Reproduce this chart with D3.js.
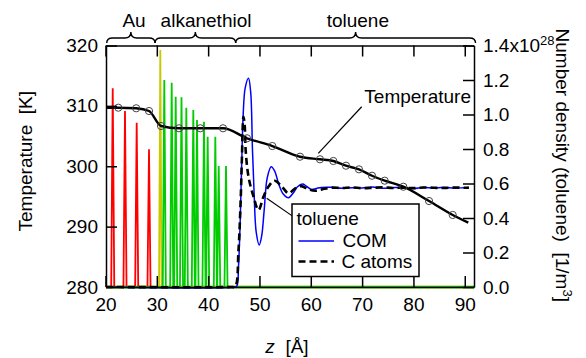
<!DOCTYPE html>
<html>
<head>
<meta charset="utf-8">
<script src="https://cdn.jsdelivr.net/npm/d3@7"></script>
<style>
  body { margin: 0; background: #fff; }
  svg text { font-family: "Liberation Sans", Arial, sans-serif; font-size: 19px; fill: #000; }
</style>
</head>
<body>
<script>
// x ticks and axis ticks
var zTicks = [20, 30, 40, 50, 60, 70, 80, 90];
var tempTicks = [280, 290, 300, 310, 320];
var densTicks = [0, 0.2, 0.4, 0.6, 0.8, 1.0, 1.2, 1.4];

// temperature profile (line) and sampled points (circles)
var tempZ = [20.1, 22.5, 25.98, 28.48, 30.82, 34.32, 38.47, 42.9, 47.57, 52.5, 57.9, 61.79, 64.39, 66.86, 69.39, 71.93, 74.4, 78.03, 83.04, 87.65, 90.69];
var tempK = [309.7, 309.7, 309.6, 309.15, 306.67, 306.29, 306.29, 306.29, 304.63, 303.35, 301.58, 301.15, 300.87, 300.09, 299.49, 298.43, 297.61, 296.61, 294.24, 291.93, 290.65];
var circZ = tempZ.slice(1, -1);
var circK = tempK.slice(1, -1);

// Au peaks (red), S peak (yellow), alkanethiol peaks (green)
var auZ = [21.41, 23.8, 26.08, 28.48];
var auD = [1.152, 1.02, 0.952, 0.798];
var sZ = [30.68];
var sD = [1.374];
var alkZ = [31.46, 32.9, 33.68, 34.81, 35.75, 37.11, 37.83, 39.19, 39.91, 41.4, 42.06, 43.48];
var alkD = [1.2, 1.184, 1.103, 1.1, 1.039, 1.026, 0.968, 0.958, 0.871, 0.871, 0.701, 0.701];

// toluene COM density
var comZ = [20.1, 45.07, 45.6, 45.91, 46.24, 46.53, 46.83, 47.22, 47.86, 48.29, 48.64, 48.97, 49.36, 49.95, 50.43, 50.92, 51.51, 52.29, 52.97, 53.71, 54.63, 55.66, 56.58, 57.36, 58.4, 59.12, 60.09, 61.07, 62.04,
            64, 66, 68, 70, 72, 74, 76, 78, 80, 82, 84, 86, 88, 90, 90.8];
var comD = [0, 0, 0.006, 0.116, 0.377, 0.707, 1.0, 1.154, 1.21, 1.13, 0.794, 0.533, 0.319, 0.243, 0.296, 0.446, 0.632, 0.697, 0.672, 0.601, 0.539, 0.518, 0.545, 0.58, 0.597, 0.585, 0.566, 0.571, 0.577,
            0.578, 0.572, 0.576, 0.574, 0.579, 0.573, 0.576, 0.575, 0.571, 0.577, 0.574, 0.578, 0.573, 0.576, 0.575];

// toluene C atom density
var cZ = [20.1, 44.49, 45.27, 45.91, 46.34, 46.57, 46.88, 47.12, 47.31, 47.86, 48.84, 49.81, 50.79, 51.76, 52.93, 54.38, 55.66, 56.97, 58.14, 59.57, 60.87, 62.18,
          64, 66, 68, 70, 72, 74, 76, 78, 80, 82, 84, 86, 88, 90, 90.8];
var cD = [0, 0, 0.002, 0.213, 0.504, 0.736, 0.987, 0.939, 0.794, 0.64, 0.524, 0.446, 0.524, 0.582, 0.616, 0.582, 0.543, 0.572, 0.585, 0.566, 0.558, 0.566,
          0.576, 0.574, 0.577, 0.573, 0.575, 0.578, 0.574, 0.576, 0.573, 0.577, 0.575, 0.574, 0.577, 0.575, 0.576];

// regions marked by braces on top
var regionNames = ["Au", "alkanethiol", "toluene"];
var regionFrom = [20.24, 29.65, 45.37];
var regionTo = [29.65, 45.37, 92.1];
var regionLabelZ = [25.56, 39.59, 69.16];

var W = 586, H = 358;
var mLeft = 106, mRight = 474, mTop = 45.5, mBottom = 287;

var svg = d3.select("body").append("svg")
    .attr("width", W)
    .attr("height", H);

var x = d3.scaleLinear().domain([20.1, 91.8]).range([mLeft, mRight]);
var yT = d3.scaleLinear().domain([280, 320]).range([mBottom, mTop]);
var yD = d3.scaleLinear().domain([0, 1.4]).range([mBottom, mTop]);

svg.append("clipPath").attr("id", "plot")
  .append("rect")
    .attr("x", mLeft).attr("y", mTop - 4)
    .attr("width", mRight - mLeft).attr("height", mBottom - mTop + 6);

var g = svg.append("g").attr("clip-path", "url(#plot)");

// peaks as narrow spikes
function spikes(zs, ds, w) {
  var pts = [[20.1, 0]];
  zs.forEach(function(z, i) {
    pts.push([z - w, 0], [z, ds[i]], [z + w, 0]);
  });
  pts.push([91.8, 0]);
  return pts;
}
var spikeLine = d3.line()
    .x(function(d) { return x(d[0]); })
    .y(function(d) { return yD(d[1]); });

// lime baseline
g.append("path")
    .attr("d", spikeLine([[20.1, 0], [91.8, 0]]))
    .attr("fill", "none").attr("stroke", "#86dc16").attr("stroke-width", 3);

g.append("path")
    .attr("d", spikeLine(spikes(auZ, auD, 0.3)))
    .attr("fill", "none").attr("stroke", "#ff0000").attr("stroke-width", 1.8);
g.append("path")
    .attr("d", spikeLine(spikes(sZ, sD, 0.25)))
    .attr("fill", "none").attr("stroke", "#c8c800").attr("stroke-width", 1.8);
g.append("path")
    .attr("d", spikeLine(spikes(alkZ, alkD, 0.3)))
    .attr("fill", "none").attr("stroke", "#00cc00").attr("stroke-width", 1.8);

var densLine = d3.line()
    .x(function(d) { return x(d[0]); })
    .y(function(d) { return yD(d[1]); })
    .curve(d3.curveCatmullRom);

g.append("path")
    .attr("d", densLine(d3.zip(comZ, comD)))
    .attr("fill", "none").attr("stroke", "#0000ff").attr("stroke-width", 1.5);
g.append("path")
    .attr("d", densLine(d3.zip(cZ, cD)))
    .attr("fill", "none").attr("stroke", "#000").attr("stroke-width", 2.6)
    .attr("stroke-dasharray", "7,4");

// temperature
var tempLine = d3.line()
    .x(function(d) { return x(d[0]); })
    .y(function(d) { return yT(d[1]); })
    .curve(d3.curveMonotoneX);
g.append("path")
    .attr("d", tempLine(d3.zip(tempZ, tempK)))
    .attr("fill", "none").attr("stroke", "#000").attr("stroke-width", 2.4);
g.selectAll(".pt")
    .data(d3.zip(circZ, circK))
  .enter().append("circle")
    .attr("class", "pt")
    .attr("cx", function(d) { return x(d[0]); })
    .attr("cy", function(d) { return yT(d[1]); })
    .attr("r", 3.6)
    .attr("fill", "none").attr("stroke", "#444").attr("stroke-width", 1);

// axes, ticks inward
function styleAxis(sel) {
  sel.selectAll("path").attr("stroke", "#000").attr("stroke-width", 1.5);
  sel.selectAll("line").attr("stroke", "#000").attr("stroke-width", 1.5);
  sel.selectAll("text").attr("font-size", null).attr("font-family", null);
}

svg.append("g")
    .attr("transform", "translate(0," + mBottom + ")")
    .call(d3.axisBottom(x).tickValues(zTicks).tickSizeInner(-11).tickSizeOuter(0).tickPadding(11))
    .call(styleAxis);
svg.append("g")
    .attr("transform", "translate(0," + mTop + ")")
    .call(d3.axisTop(x).tickValues(zTicks).tickSizeInner(-11).tickSizeOuter(0).tickFormat(""))
    .call(styleAxis);
svg.append("g")
    .attr("transform", "translate(" + mLeft + ",0)")
    .call(d3.axisLeft(yT).tickValues(tempTicks).tickSizeInner(-11).tickSizeOuter(0).tickPadding(8))
    .call(styleAxis);
var rAxis = svg.append("g")
    .attr("transform", "translate(" + mRight + ",0)")
    .call(d3.axisRight(yD).tickValues(densTicks).tickSizeInner(-11).tickSizeOuter(0).tickPadding(9)
      .tickFormat(d3.format(".1f")))
    .call(styleAxis);
// exponent on top label
rAxis.selectAll(".tick text").filter(function(d) { return d === 1.4; })
    .text("1.4x10")
  .append("tspan")
    .attr("dy", "-0.55em")
    .attr("font-size", "13px")
    .text("28");

// axis titles
svg.append("text")
    .attr("transform", "translate(32," + ((mTop + mBottom) / 2 - 5) + ") rotate(-90)")
    .attr("text-anchor", "middle")
    .style("white-space", "pre")
    .text("Temperature  [K]");

var rt = svg.append("text")
    .attr("transform", "translate(556," + ((mTop + mBottom) / 2 - 1) + ") rotate(90)")
    .attr("text-anchor", "middle")
    .style("white-space", "pre");
rt.append("tspan").text("Number density (toluene)  [1/m");
rt.append("tspan").attr("dy", "-0.5em").attr("font-size", "13px").text("3");
rt.append("tspan").attr("dy", "0.33em").text("]");

var xt = svg.append("text")
    .attr("x", 287).attr("y", 353)
    .attr("text-anchor", "middle")
    .style("white-space", "pre");
xt.append("tspan").attr("font-style", "italic").text("z");
xt.append("tspan").text("  [Å]");

// braces
function brace(x0, x1) {
  var m = (x0 + x1) / 2, yb = 43, yf = 38, yt = 32, r = 6;
  return "M" + x0 + "," + yb + " Q" + x0 + "," + yf + " " + (x0 + r) + "," + yf +
    " L" + (m - r) + "," + yf + " Q" + m + "," + yf + " " + m + "," + yt +
    " Q" + m + "," + yf + " " + (m + r) + "," + yf +
    " L" + (x1 - r) + "," + yf + " Q" + x1 + "," + yf + " " + x1 + "," + yb;
}
regionNames.forEach(function(name, i) {
  svg.append("path")
      .attr("d", brace(x(regionFrom[i]), x(regionTo[i])))
      .attr("fill", "none").attr("stroke", "#000").attr("stroke-width", 1.4);
  svg.append("text")
      .attr("x", x(regionLabelZ[i])).attr("y", 27)
      .attr("text-anchor", "middle")
      .text(name);
});

// annotations
svg.append("line")
    .attr("x1", x(69.92)).attr("y1", yT(309.86))
    .attr("x2", x(61.46)).attr("y2", yT(302.14))
    .attr("stroke", "#000").attr("stroke-width", 1.2);
svg.append("text")
    .attr("x", x(70.43)).attr("y", yT(310.48))
    .text("Temperature");

svg.append("line")
    .attr("x1", x(51.41)).attr("y1", yD(0.514))
    .attr("x2", x(56.59)).attr("y2", yD(0.408))
    .attr("stroke", "#000").attr("stroke-width", 1.2);

// legend
var lg = svg.append("g").attr("transform", "translate(292,204)");
lg.append("rect")
    .attr("width", 127).attr("height", 72.5)
    .attr("fill", "#fff").attr("stroke", "#000").attr("stroke-width", 1.5);
lg.append("text").attr("x", 4.5).attr("y", 21).text("toluene");
lg.append("line").attr("x1", 6.5).attr("x2", 42).attr("y1", 37).attr("y2", 37)
    .attr("stroke", "#0000ff").attr("stroke-width", 1.5);
lg.append("text").attr("x", 50.5).attr("y", 42.5).text("COM");
lg.append("line").attr("x1", 6.5).attr("x2", 42).attr("y1", 57.5).attr("y2", 57.5)
    .attr("stroke", "#000").attr("stroke-width", 2.6).attr("stroke-dasharray", "7,4");
lg.append("text").attr("x", 49.5).attr("y", 64).text("C atoms");
</script>
</body>
</html>
